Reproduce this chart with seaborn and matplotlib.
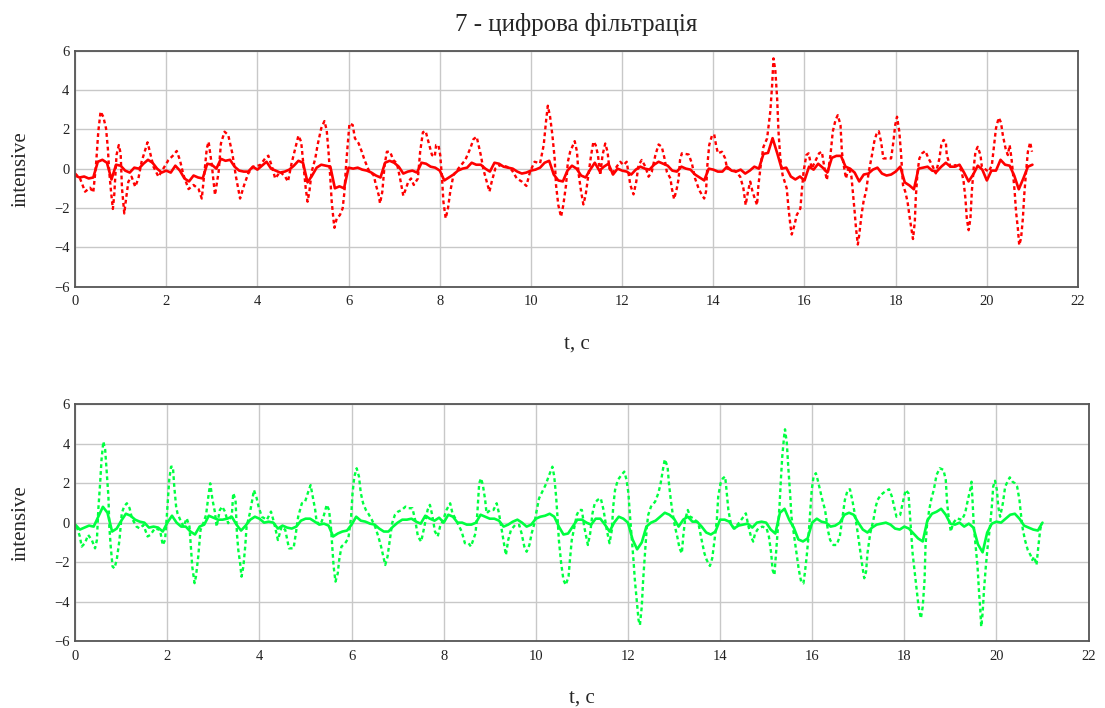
import numpy as np
import pandas as pd
import matplotlib
matplotlib.use('Agg')
import matplotlib.pyplot as plt
import seaborn as sns

# time base of the solid (filtered) traces, 0.1 s step
t_solid = np.round(np.arange(211) * 0.1, 1)

# top panel, solid red trace (one row per second)
red_solid = [
    -0.35, -0.45, -0.40, -0.50, -0.45, 0.35, 0.45, 0.30, -0.55, 0.20,
    0.15, -0.10, -0.20, 0.05, 0.00, 0.25, 0.45, 0.30, 0.00, -0.20,
    -0.10, -0.20, 0.15, -0.10, -0.50, -0.65, -0.35, -0.45, -0.50, 0.25,
    0.20, 0.00, 0.50, 0.40, 0.45, 0.10, -0.10, -0.15, -0.15, 0.10,
    -0.05, 0.15, 0.35, 0.00, -0.10, -0.20, -0.15, -0.05, 0.15, 0.40,
    0.30, -0.70, -0.35, 0.05, 0.20, 0.15, 0.10, -1.00, -0.90, -1.00,
    0.05, 0.00, 0.05, -0.05, -0.10, -0.20, -0.35, -0.45, 0.30, 0.40,
    0.30, 0.10, -0.25, -0.15, -0.10, -0.20, 0.30, 0.25, 0.10, 0.05,
    -0.10, -0.60, -0.45, -0.30, -0.10, 0.00, 0.05, 0.30, 0.20, 0.20,
    0.00, -0.15, 0.30, 0.25, 0.10, 0.05, 0.00, -0.15, -0.25, -0.20,
    -0.10, -0.05, 0.05, 0.30, 0.40, -0.30, -0.60, -0.65, -0.10, 0.15,
    0.00, -0.35, -0.45, -0.05, 0.30, -0.10, 0.10, 0.25, -0.30, 0.00,
    -0.10, -0.15, -0.30, -0.05, 0.10, 0.00, -0.05, 0.20, 0.35, 0.25,
    0.15, -0.10, -0.15, 0.10, 0.00, -0.05, -0.30, -0.45, -0.60, 0.00,
    -0.05, -0.15, -0.15, 0.10, -0.10, -0.15, -0.05, -0.25, -0.10, 0.10,
    0.00, 0.75, 0.80, 1.55, 0.80, 0.00, 0.05, -0.40, -0.55, -0.40,
    -0.60, 0.10, -0.05, 0.25, 0.05, -0.20, 0.55, 0.65, 0.65, 0.10,
    0.00, -0.20, -0.65, -0.30, -0.25, -0.05, 0.05, -0.25, -0.35, -0.30,
    -0.15, 0.10, -0.70, -0.85, -1.05, 0.00, 0.05, 0.10, -0.10, -0.15,
    0.10, 0.30, 0.10, 0.10, 0.20, -0.20, -0.65, -0.30, 0.15, -0.05,
    -0.60, -0.10, -0.10, 0.45, 0.20, 0.15, -0.35, -1.05, -0.50, 0.10,
    0.20,
]

# bottom panel, solid green trace
green_solid = [
    -0.10, -0.35, -0.25, -0.15, -0.20, 0.30, 0.80, 0.50, -0.45, -0.30,
    0.10, 0.45, 0.35, 0.15, 0.05, 0.00, -0.25, -0.20, -0.25, -0.45,
    0.00, 0.35, 0.00, -0.20, -0.20, -0.45, -0.60, -0.20, -0.10, 0.35,
    0.25, 0.15, 0.15, 0.20, 0.30, -0.10, -0.40, -0.15, 0.15, 0.30,
    0.20, 0.00, 0.05, 0.00, -0.30, -0.15, -0.25, -0.30, -0.20, 0.10,
    0.20, 0.20, 0.05, -0.10, -0.05, -0.15, -0.70, -0.55, -0.45, -0.40,
    -0.10, 0.30, 0.10, 0.05, -0.05, -0.10, -0.30, -0.45, -0.45, -0.20,
    0.00, 0.15, 0.15, 0.20, 0.05, -0.05, 0.35, 0.20, 0.10, 0.25,
    0.00, 0.40, 0.30, 0.00, 0.00, -0.10, -0.10, 0.00, 0.40, 0.30,
    0.20, 0.20, 0.10, -0.20, -0.10, 0.05, 0.15, 0.00, -0.20, -0.10,
    0.20, 0.30, 0.35, 0.45, 0.30, -0.20, -0.60, -0.55, -0.20, 0.15,
    0.15, 0.00, -0.10, 0.20, 0.20, -0.10, -0.45, 0.00, 0.30, 0.20,
    0.00, -0.85, -1.35, -1.00, -0.20, 0.00, 0.10, 0.30, 0.50, 0.40,
    0.20, -0.20, 0.15, 0.30, 0.05, 0.05, -0.20, -0.50, -0.60, -0.45,
    0.15, 0.15, 0.05, -0.30, -0.15, -0.10, -0.05, -0.25, 0.00, 0.05,
    0.00, -0.35, -0.55, 0.50, 0.70, 0.15, -0.25, -0.85, -0.95, -0.80,
    0.00, 0.20, 0.05, 0.00, -0.20, -0.15, 0.00, 0.40, 0.50, 0.40,
    0.00, -0.35, -0.50, -0.25, -0.10, -0.05, 0.00, -0.10, -0.30, -0.35,
    -0.20, -0.30, -0.55, -0.80, -0.95, 0.10, 0.45, 0.55, 0.70, 0.40,
    -0.05, -0.10, 0.00, -0.20, -0.05, -0.25, -1.10, -1.50, -0.50, -0.05,
    0.05, 0.00, 0.20, 0.40, 0.45, 0.20, -0.15, -0.25, -0.35, -0.40,
    0.00,
]

# dotted (unfiltered) traces, read as (t, value) points
red_dotted = [
    (0.00, -0.24), (0.11, -0.50), (0.22, -1.17), (0.33, -0.97), (0.40, -1.21), (0.46, 0.18),
    (0.51, 1.88), (0.56, 2.90), (0.62, 2.64), (0.68, 2.05), (0.72, 1.03), (0.75, -0.16),
    (0.79, -1.17), (0.83, -2.05), (0.86, -1.34), (0.91, 0.69), (0.96, 1.20), (1.00, 0.78),
    (1.03, -1.00), (1.08, -2.28), (1.12, -1.52), (1.17, -0.66), (1.24, -0.41), (1.32, -0.92),
    (1.39, -0.50), (1.46, 0.35), (1.54, 0.95), (1.59, 1.34), (1.65, 0.78), (1.72, 0.10),
    (1.83, -0.41), (1.94, 0.01), (2.05, 0.44), (2.16, 0.69), (2.23, 0.90), (2.30, 0.44),
    (2.38, -0.33), (2.49, -1.04), (2.60, -0.83), (2.71, -1.04), (2.78, -1.52), (2.84, -0.16),
    (2.89, 1.03), (2.93, 1.37), (3.00, 0.18), (3.07, -1.34), (3.15, -0.16), (3.20, 1.28),
    (3.28, 1.88), (3.36, 1.71), (3.45, 0.78), (3.53, -0.41), (3.62, -1.52), (3.71, -0.83),
    (3.80, -0.24), (3.91, 0.10), (4.06, 0.18), (4.17, 0.52), (4.24, 0.66), (4.32, 0.10),
    (4.39, -0.50), (4.50, -0.16), (4.61, -0.41), (4.67, -0.66), (4.75, 0.27), (4.83, 1.03),
    (4.90, 1.68), (4.96, 1.37), (5.01, 0.18), (5.06, -1.00), (5.10, -1.68), (5.14, -1.17),
    (5.19, -0.16), (5.27, 0.52), (5.32, 1.20), (5.40, 2.05), (5.47, 2.42), (5.52, 1.96),
    (5.56, 0.86), (5.60, -0.50), (5.63, -1.68), (5.67, -2.62), (5.69, -3.01), (5.74, -2.53),
    (5.81, -2.36), (5.87, -2.02), (5.91, -1.17), (5.94, 0.01), (5.98, 1.20), (6.02, 2.30),
    (6.09, 2.22), (6.14, 1.54), (6.22, 1.29), (6.29, 0.86), (6.35, 0.44), (6.44, -0.07),
    (6.55, -0.33), (6.60, -0.83), (6.66, -1.34), (6.69, -1.77), (6.74, -1.17), (6.79, 0.18),
    (6.84, 0.86), (6.91, 0.86), (6.98, 0.44), (7.06, 0.27), (7.13, -0.50), (7.20, -1.38),
    (7.26, -1.00), (7.31, -0.66), (7.37, -0.50), (7.43, -0.83), (7.52, -0.50), (7.57, 0.86),
    (7.63, 1.85), (7.69, 1.91), (7.77, 1.20), (7.83, 0.69), (7.89, 0.61), (7.92, 1.20),
    (7.97, 1.20), (8.01, 0.69), (8.05, -0.50), (8.08, -1.68), (8.13, -2.53), (8.18, -2.02),
    (8.23, -1.17), (8.30, -0.33), (8.41, 0.01), (8.56, 0.44), (8.67, 1.03), (8.74, 1.50),
    (8.81, 1.62), (8.85, 1.20), (8.90, 0.69), (8.96, -0.07), (9.03, -0.66), (9.09, -1.17),
    (9.14, -0.66), (9.22, 0.01), (9.32, 0.18), (9.47, 0.10), (9.58, -0.07), (9.69, -0.50),
    (9.80, -0.66), (9.90, -0.88), (9.98, -0.16), (10.08, 0.35), (10.20, 0.27), (10.28, 1.20),
    (10.33, 2.39), (10.37, 3.20), (10.42, 2.64), (10.47, 1.71), (10.52, 0.52), (10.55, -0.83),
    (10.60, -1.85), (10.66, -2.45), (10.71, -1.85), (10.77, -0.83), (10.81, 0.35), (10.86, 0.86),
    (10.96, 1.40), (11.01, 0.86), (11.04, -0.16), (11.10, -1.17), (11.15, -1.82), (11.20, -1.34),
    (11.26, -0.33), (11.32, 0.69), (11.37, 1.37), (11.42, 1.20), (11.47, 0.69), (11.52, -0.33),
    (11.57, 0.69), (11.63, 1.28), (11.68, 0.86), (11.72, 0.01), (11.79, -0.24), (11.88, 0.10),
    (11.96, 0.35), (12.03, 0.18), (12.10, 0.35), (12.18, -0.83), (12.25, -1.31), (12.31, -0.66),
    (12.36, 0.18), (12.43, 0.44), (12.51, 0.10), (12.58, -0.41), (12.65, -0.16), (12.73, 0.69),
    (12.80, 1.23), (12.87, 1.11), (12.93, 0.52), (12.98, -0.16), (13.06, -0.50), (13.09, -1.00),
    (13.14, -1.55), (13.20, -1.00), (13.24, -0.50), (13.27, 0.44), (13.31, 0.78), (13.46, 0.72),
    (13.53, 0.27), (13.60, -0.50), (13.69, -1.09), (13.80, -1.52), (13.84, -1.17), (13.87, 0.18),
    (13.91, 1.20), (13.97, 1.68), (14.02, 1.74), (14.06, 1.20), (14.10, 0.78), (14.19, 0.86),
    (14.26, 0.52), (14.30, 0.01), (14.48, -0.12), (14.59, -0.41), (14.66, -1.00), (14.71, -1.85),
    (14.76, -1.17), (14.81, -0.66), (14.86, -1.17), (14.91, -1.52), (14.96, -1.85), (14.99, -0.83),
    (15.05, 0.35), (15.10, 1.11), (15.18, 1.54), (15.25, 2.90), (15.29, 4.25), (15.32, 5.61),
    (15.36, 5.00), (15.40, 3.57), (15.43, 1.88), (15.47, 0.52), (15.52, -0.33), (15.61, -1.00),
    (15.65, -2.02), (15.69, -2.87), (15.72, -3.35), (15.78, -2.87), (15.83, -2.36), (15.91, -2.02),
    (15.94, -1.17), (15.98, -0.16), (16.04, 0.69), (16.09, 0.78), (16.16, 0.01), (16.32, 0.78),
    (16.38, 0.86), (16.44, 0.01), (16.49, -0.58), (16.57, 0.69), (16.62, 1.88), (16.68, 2.47),
    (16.73, 2.72), (16.79, 2.22), (16.82, 0.86), (16.86, 0.18), (16.91, -0.50), (16.97, 0.10),
    (17.03, -0.41), (17.06, -1.17), (17.10, -2.19), (17.13, -3.04), (17.17, -3.86), (17.20, -3.38),
    (17.25, -2.36), (17.30, -1.60), (17.35, -1.17), (17.41, -0.16), (17.48, 0.69), (17.53, 1.37),
    (17.59, 1.85), (17.63, 1.90), (17.68, 1.37), (17.73, 0.52), (17.81, 0.52), (17.90, 0.52),
    (17.95, 1.37), (17.99, 2.22), (18.03, 2.64), (18.08, 1.88), (18.12, 0.69), (18.16, -0.83),
    (18.21, -1.17), (18.26, -1.68), (18.31, -2.53), (18.36, -3.30), (18.38, -3.58), (18.42, -2.70),
    (18.44, -1.52), (18.48, -0.16), (18.52, 0.52), (18.58, 0.78), (18.65, 0.90), (18.72, 0.52),
    (18.80, 0.18), (18.88, -0.24), (18.96, 0.52), (19.00, 1.20), (19.05, 1.46), (19.10, 1.37),
    (19.12, 0.69), (19.20, 0.10), (19.31, 0.18), (19.44, -0.07), (19.49, -0.66), (19.53, -1.52),
    (19.56, -2.53), (19.60, -3.13), (19.64, -2.53), (19.67, -1.17), (19.71, 0.01), (19.75, 0.86),
    (19.80, 1.11), (19.86, 0.69), (19.89, 0.10), (20.04, -0.16), (20.11, 0.18), (20.16, 1.20),
    (20.20, 2.05), (20.26, 2.59), (20.31, 2.35), (20.35, 1.71), (20.41, 1.03), (20.46, 0.69),
    (20.50, 1.20), (20.54, 0.52), (20.57, -0.16), (20.61, -1.17), (20.64, -2.19), (20.68, -3.04),
    (20.71, -3.89), (20.75, -3.55), (20.79, -2.53), (20.82, -1.34), (20.86, -0.16), (20.90, 0.86),
    (20.95, 1.34), (20.99, 0.86),
]

green_dotted = [
    (0.03, -0.20), (0.10, -0.70), (0.14, -1.21), (0.21, -1.04), (0.28, -0.62), (0.36, -0.88),
    (0.43, -1.30), (0.47, -0.88), (0.50, 0.64), (0.54, 1.99), (0.57, 3.17), (0.61, 4.10),
    (0.65, 3.68), (0.68, 2.67), (0.72, 1.32), (0.74, -0.20), (0.77, -1.21), (0.81, -2.22),
    (0.85, -2.31), (0.90, -1.89), (0.96, -0.88), (1.01, 0.47), (1.06, 0.81), (1.12, 0.98),
    (1.18, 0.73), (1.23, 0.22), (1.33, -0.20), (1.40, -0.29), (1.48, -0.12), (1.57, -0.70),
    (1.63, -0.62), (1.73, -0.29), (1.84, -0.37), (1.90, -1.13), (1.95, -0.88), (1.99, 0.39),
    (2.04, 2.16), (2.08, 2.83), (2.12, 2.83), (2.15, 1.82), (2.19, 0.81), (2.22, 0.47),
    (2.28, 0.14), (2.35, -0.20), (2.42, 0.22), (2.48, -0.20), (2.51, -1.21), (2.54, -2.22),
    (2.59, -3.06), (2.62, -2.73), (2.67, -1.72), (2.72, -0.37), (2.78, -0.03), (2.84, 0.39),
    (2.89, 1.32), (2.93, 1.99), (2.98, 1.15), (3.03, 0.56), (3.07, -0.20), (3.14, 0.64),
    (3.19, 0.81), (3.25, 0.56), (3.32, -0.03), (3.40, 0.39), (3.43, 1.49), (3.48, 1.15),
    (3.51, -0.54), (3.54, -1.38), (3.58, -2.06), (3.61, -2.73), (3.65, -2.22), (3.69, -1.21),
    (3.72, -0.20), (3.79, 0.47), (3.83, 0.98), (3.88, 1.65), (3.94, 1.23), (3.98, 0.81),
    (4.05, 0.30), (4.16, 0.14), (4.25, 0.56), (4.32, -0.03), (4.40, -0.88), (4.48, -0.20),
    (4.56, -0.37), (4.64, -1.30), (4.74, -1.30), (4.79, -0.54), (4.84, 0.30), (4.92, 0.98),
    (4.99, 1.06), (5.06, 1.57), (5.11, 1.90), (5.17, 1.15), (5.21, 0.64), (5.24, 0.05),
    (5.32, -0.12), (5.39, 0.30), (5.46, 0.90), (5.51, 0.64), (5.55, -0.20), (5.58, -1.21),
    (5.61, -2.22), (5.65, -2.98), (5.70, -2.56), (5.73, -1.89), (5.78, -1.21), (5.86, -1.04),
    (5.93, -0.79), (5.99, 0.30), (6.02, 1.49), (6.06, 2.33), (6.11, 2.75), (6.16, 2.33),
    (6.20, 1.49), (6.25, 0.98), (6.31, 0.64), (6.36, 0.47), (6.44, 0.14), (6.51, -0.20),
    (6.58, -0.70), (6.64, -1.21), (6.69, -1.72), (6.73, -2.14), (6.78, -1.72), (6.83, -0.88),
    (6.88, -0.03), (6.94, 0.39), (7.01, 0.56), (7.09, 0.64), (7.17, 0.81), (7.23, 0.73),
    (7.32, 0.73), (7.38, 0.14), (7.44, -0.70), (7.51, -0.96), (7.58, -0.20), (7.65, 0.64),
    (7.70, 0.90), (7.75, 0.39), (7.81, -0.45), (7.87, -0.70), (7.92, -0.20), (7.99, 0.14),
    (8.06, 0.64), (8.14, 0.98), (8.19, 0.47), (8.25, 0.22), (8.32, -0.12), (8.39, -0.45),
    (8.46, -1.04), (8.54, -1.04), (8.59, -1.21), (8.64, -0.88), (8.69, -0.54), (8.73, 0.47),
    (8.77, 1.99), (8.81, 2.24), (8.85, 1.90), (8.90, 1.15), (8.93, 0.47), (9.01, 0.64),
    (9.08, 0.64), (9.15, 0.98), (9.20, 0.47), (9.26, -0.37), (9.32, -1.21), (9.35, -1.64),
    (9.40, -0.88), (9.46, -0.37), (9.55, -0.12), (9.64, -0.12), (9.69, -0.54), (9.75, -1.21),
    (9.80, -1.47), (9.86, -1.13), (9.91, -0.54), (9.97, -0.03), (10.02, 0.64), (10.07, 1.23),
    (10.14, 1.57), (10.21, 1.90), (10.29, 2.41), (10.36, 2.83), (10.40, 2.33), (10.44, 1.32),
    (10.47, 0.30), (10.50, -0.88), (10.55, -2.06), (10.60, -2.90), (10.65, -3.15), (10.71, -2.73),
    (10.74, -1.89), (10.78, -0.88), (10.84, -0.20), (10.89, 0.39), (10.94, 0.64), (11.00, 0.64),
    (11.05, -0.20), (11.13, -1.13), (11.18, -0.54), (11.23, 0.47), (11.28, 0.98), (11.34, 1.15),
    (11.41, 1.23), (11.47, 0.64), (11.54, -0.37), (11.60, -1.04), (11.65, -0.37), (11.68, 0.81),
    (11.72, 1.65), (11.78, 2.16), (11.86, 2.41), (11.92, 2.58), (11.97, 2.16), (12.01, 1.49),
    (12.04, 0.47), (12.08, -0.70), (12.12, -1.89), (12.15, -2.90), (12.19, -3.91), (12.23, -4.92),
    (12.26, -5.18), (12.30, -4.24), (12.33, -2.90), (12.37, -1.55), (12.41, -0.20), (12.44, 0.39),
    (12.50, 0.81), (12.59, 1.06), (12.66, 1.49), (12.71, 1.99), (12.77, 2.83), (12.80, 3.20),
    (12.86, 2.83), (12.89, 1.99), (12.93, 1.15), (12.97, 0.47), (13.02, -0.20), (13.07, -0.70),
    (13.12, -1.30), (13.17, -1.55), (13.20, -0.70), (13.24, 0.14), (13.30, 0.64), (13.35, 0.30),
    (13.42, 0.22), (13.53, -0.03), (13.60, -0.88), (13.66, -1.55), (13.71, -1.89), (13.78, -2.19),
    (13.83, -1.80), (13.88, -0.88), (13.93, 0.14), (13.96, 1.32), (14.01, 1.99), (14.06, 2.24),
    (14.11, 2.33), (14.14, 1.65), (14.18, 0.64), (14.24, -0.12), (14.32, -0.29), (14.43, 0.05),
    (14.51, 0.30), (14.56, 0.47), (14.61, -0.12), (14.67, -0.70), (14.72, -0.96), (14.76, -0.54),
    (14.83, -0.29), (14.92, -0.20), (15.01, -0.29), (15.06, -0.70), (15.11, -1.55), (15.14, -2.39),
    (15.18, -2.65), (15.21, -1.72), (15.25, -0.54), (15.29, 0.81), (15.32, 2.16), (15.35, 3.34),
    (15.39, 4.35), (15.41, 4.72), (15.45, 4.01), (15.48, 2.83), (15.52, 1.49), (15.55, 0.30),
    (15.61, -0.70), (15.66, -1.55), (15.71, -2.39), (15.76, -2.98), (15.81, -3.07), (15.84, -2.56),
    (15.88, -1.72), (15.92, -0.70), (15.95, 0.30), (15.99, 1.65), (16.03, 2.33), (16.08, 2.50),
    (16.12, 2.16), (16.17, 1.65), (16.22, 1.15), (16.28, 0.64), (16.34, -0.37), (16.39, -0.88),
    (16.46, -1.13), (16.53, -1.13), (16.60, -0.70), (16.65, 0.14), (16.71, 1.15), (16.77, 1.65),
    (16.82, 1.69), (16.87, 1.15), (16.93, 0.39), (16.99, -0.54), (17.04, -1.38), (17.09, -2.22),
    (17.13, -2.81), (17.17, -2.48), (17.20, -1.55), (17.26, -0.54), (17.33, 0.14), (17.38, 0.81),
    (17.42, 1.15), (17.49, 1.40), (17.58, 1.57), (17.67, 1.69), (17.73, 1.32), (17.78, 0.81),
    (17.83, 0.30), (17.91, 0.39), (17.98, 1.15), (18.03, 1.65), (18.09, 1.49), (18.12, 0.47),
    (18.15, -0.54), (18.18, -1.55), (18.22, -2.39), (18.26, -3.24), (18.31, -4.25), (18.36, -4.84),
    (18.40, -4.25), (18.44, -2.90), (18.46, -1.21), (18.49, -0.20), (18.54, 0.64), (18.59, 1.23),
    (18.64, 1.65), (18.70, 2.41), (18.77, 2.75), (18.85, 2.67), (18.90, 2.16), (18.93, 0.98),
    (18.97, 0.14), (19.01, -0.45), (19.06, -0.03), (19.14, 0.22), (19.25, 0.14), (19.32, 0.47),
    (19.38, 1.15), (19.43, 1.65), (19.46, 2.07), (19.48, 1.15), (19.51, -0.20), (19.55, -1.21),
    (19.59, -2.22), (19.62, -3.41), (19.65, -4.42), (19.67, -5.26), (19.70, -4.59), (19.73, -3.41),
    (19.77, -2.22), (19.81, -1.21), (19.86, -0.20), (19.90, 0.81), (19.93, 1.82), (19.97, 2.12),
    (20.01, 1.65), (20.04, 0.81), (20.08, 0.30), (20.14, 0.98), (20.19, 1.82), (20.24, 2.07),
    (20.29, 2.29), (20.35, 2.07), (20.40, 1.99), (20.45, 1.82), (20.50, 1.15), (20.53, 0.47),
    (20.57, -0.29), (20.62, -0.88), (20.68, -1.38), (20.74, -1.64), (20.78, -1.89), (20.82, -1.72),
    (20.87, -2.14), (20.91, -1.21), (20.95, -0.37), (20.98, -0.03),
]

x_ticks = list(range(0, 23, 2))
y_ticks = list(range(-6, 7, 2))

sns.set_theme(style='whitegrid')
plt.rcParams['font.family'] = ['Liberation Serif', 'DejaVu Serif']
plt.rcParams['axes.unicode_minus'] = True

red_pts = pd.DataFrame(red_dotted, columns=['t', 'v'])
green_pts = pd.DataFrame(green_dotted, columns=['t', 'v'])

fig = plt.figure(figsize=(11.05, 7.08), dpi=100)
fig.patch.set_facecolor('white')
ax1 = fig.add_axes([0.0679, 0.5952, 0.9077, 0.3332])
ax2 = fig.add_axes([0.0681, 0.0942, 0.9170, 0.3352])

panels = [
    (ax1, red_pts, red_solid, '#ff0000', -0.205),
    (ax2, green_pts, green_solid, '#00ff40', -0.20),
]

for ax, pts, solid, col, xlab_y in panels:
    sns.lineplot(x=pts['t'], y=pts['v'], ax=ax, color=col, lw=1.7,
                 linestyle=(0, (1.6, 1.3)), estimator=None, sort=False)
    sns.lineplot(x=t_solid, y=solid, ax=ax, color=col, lw=1.9,
                 estimator=None, sort=False)
    ax.set_xlim(0, 22)
    ax.set_ylim(-6, 6)
    ax.set_xticks(x_ticks)
    ax.set_yticks(y_ticks)
    ax.set_facecolor('white')
    ax.grid(True, color='#c8c8c8', lw=1.0)
    for sp in ax.spines.values():
        sp.set_visible(True)
        sp.set_color('#555555')
        sp.set_linewidth(1.3)
    ax.tick_params(axis='both', length=0, labelsize=10.5, colors='#222222')
    ax.tick_params(axis='x', pad=6)
    ax.tick_params(axis='y', pad=4)
    ax.set_xlabel('t, c', fontsize=15)
    ax.set_ylabel('intensive', fontsize=15)
    ax.xaxis.set_label_coords(0.5, xlab_y)
    ax.yaxis.set_label_coords(-0.044, 0.5)

fig.text(0.5217, 0.966, '7 - цифрова фільтрація', ha='center', va='center', fontsize=18)

fig.savefig('out.png', dpi=100, facecolor='white')
